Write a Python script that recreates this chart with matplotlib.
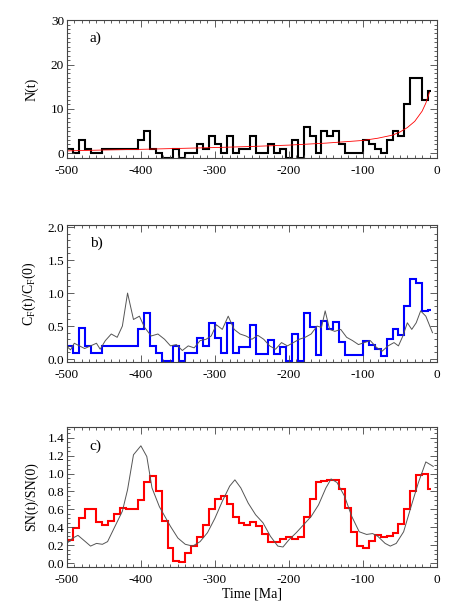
import numpy as np
import matplotlib
matplotlib.use('Agg')
from matplotlib import pyplot as plt
from matplotlib.ticker import MultipleLocator

plt.rcParams['font.family'] = ['Liberation Serif', 'DejaVu Serif']
plt.rcParams['mathtext.fontset'] = 'custom'
plt.rcParams['mathtext.rm'] = 'Liberation Serif'
plt.rcParams['axes.unicode_minus'] = False

# bin edges of the 8 Ma histograms (last bin is a half bin)
bin_edges = np.r_[-500, np.arange(-492, -11, 8), -8]

# a) number of events per bin
n_counts = [1, 0, 3, 1, 0, 0, 1, 1, 1, 1, 1, 1, 3, 5, 1, 0, -1, -1, 1, -1,
            0, 0, 2, 1, 4, 2, 0, 4, 0, 1, 1, 4, 0, 0, 2, 0, 1, -1, 3, -1,
            6, 4, 0, 5, 4, 5, 2, 0, 0, 0, 3, 2, 1, 0, 3, 5, 4, 11, 17, 17,
            12, 14]
fit_t = [-500, -450, -400, -350, -300, -250, -200, -150, -100, -80, -60,
         -50, -40, -30, -20, -15, -10]
fit_n = [0.55, 0.75, 0.9, 1.1, 1.3, 1.55, 1.85, 2.3, 2.9, 3.4, 4.1, 4.8,
         5.8, 7.2, 9.5, 11.3, 13.8]

# b) C_F(t)/C_F(0)
cf_hist = [0.20, 0.09, 0.47, 0.20, 0.09, 0.09, 0.20, 0.20, 0.20, 0.20, 0.20,
           0.20, 0.45, 0.70, 0.20, 0.09, -0.03, -0.03, 0.20, -0.03, 0.09,
           0.09, 0.32, 0.20, 0.55, 0.32, 0.09, 0.55, 0.09, 0.19, 0.19, 0.52,
           0.08, 0.08, 0.29, 0.08, 0.18, -0.03, 0.38, -0.03, 0.70, 0.48,
           0.06, 0.57, 0.45, 0.56, 0.26, 0.06, 0.06, 0.06, 0.28, 0.22, 0.15,
           0.05, 0.31, 0.46, 0.36, 0.81, 1.22, 1.15, 0.73, 0.75]
cf_t = [-500, -495, -490, -483, -476, -468, -460, -455, -448, -440, -432,
        -425, -418, -410, -402, -395, -386, -377, -368, -360, -352, -344,
        -336, -328, -320, -312, -305, -298, -290, -282, -274, -266, -258,
        -250, -242, -234, -226, -218, -210, -202, -194, -186, -178, -170,
        -162, -156, -151, -145, -138, -130, -122, -114, -106, -98, -90,
        -82, -74, -66, -58, -52, -46, -40, -34, -28, -22, -15, -6]
cf_line = [0.19, 0.14, 0.24, 0.20, 0.16, 0.20, 0.24, 0.15, 0.28, 0.38, 0.33,
           0.50, 1.00, 0.60, 0.65, 0.48, 0.35, 0.38, 0.30, 0.20, 0.22, 0.13,
           0.20, 0.17, 0.28, 0.30, 0.35, 0.52, 0.45, 0.65, 0.45, 0.38, 0.35,
           0.30, 0.36, 0.30, 0.20, 0.15, 0.25, 0.20, 0.25, 0.30, 0.33, 0.38,
           0.50, 0.48, 0.73, 0.45, 0.42, 0.45, 0.33, 0.28, 0.22, 0.25, 0.28,
           0.18, 0.12, 0.20, 0.25, 0.20, 0.35, 0.55, 0.45, 0.55, 0.73, 0.65,
           0.40]

# c) SN(t)/SN(0)
sn_hist = [0.26, 0.39, 0.50, 0.60, 0.60, 0.46, 0.42, 0.47, 0.55, 0.61, 0.60,
           0.60, 0.71, 0.91, 0.97, 0.81, 0.47, 0.17, 0.02, 0.01, 0.11, 0.19,
           0.29, 0.43, 0.60, 0.72, 0.75, 0.66, 0.51, 0.45, 0.42, 0.46, 0.41,
           0.32, 0.24, 0.24, 0.27, 0.29, 0.27, 0.29, 0.51, 0.72, 0.91, 0.92,
           0.93, 0.93, 0.83, 0.61, 0.35, 0.19, 0.17, 0.25, 0.31, 0.29, 0.30,
           0.34, 0.44, 0.60, 0.80, 0.98, 1.00, 0.83]
sn_t = [-500, -492, -485, -475, -468, -460, -452, -445, -435, -425, -418,
        -410, -400, -392, -385, -375, -360, -350, -340, -330, -320, -310,
        -300, -290, -280, -273, -265, -255, -245, -235, -225, -215, -208,
        -200, -190, -180, -170, -160, -150, -143, -135, -125, -115, -105,
        -95, -87, -80, -70, -63, -55, -45, -35, -25, -15, -5]
sn_line = [0.22, 0.28, 0.31, 0.24, 0.19, 0.22, 0.21, 0.24, 0.41, 0.58, 0.82,
           1.21, 1.31, 1.19, 0.84, 0.63, 0.41, 0.28, 0.21, 0.19, 0.24, 0.34,
           0.50, 0.69, 0.86, 0.93, 0.84, 0.67, 0.54, 0.45, 0.30, 0.19, 0.18,
           0.26, 0.34, 0.43, 0.52, 0.65, 0.84, 0.94, 0.90, 0.75, 0.52, 0.35,
           0.32, 0.33, 0.30, 0.22, 0.19, 0.22, 0.35, 0.63, 0.90, 1.13, 1.08]

frame_col = '#444444'


def format_ax(ax, ylim, major, minor, label, tag):
    ax.set_xlim(-500, 0)
    ax.set_ylim(*ylim)
    ax.xaxis.set_major_locator(MultipleLocator(100))
    ax.xaxis.set_minor_locator(MultipleLocator(10))
    ax.yaxis.set_major_locator(MultipleLocator(major))
    ax.yaxis.set_minor_locator(MultipleLocator(minor))
    ax.tick_params(which='both', direction='in', top=True, right=True,
                   color=frame_col, labelsize=9.5, width=0.6)
    ax.tick_params(which='major', length=5)
    ax.tick_params(which='minor', length=2.5)
    ax.tick_params(axis='y', pad=2)
    ax.tick_params(axis='x', pad=5)
    for sp in ax.spines.values():
        sp.set_color(frame_col)
        sp.set_linewidth(0.8)
    ax.set_ylabel(label, fontsize=10)
    ax.yaxis.set_label_coords(-0.077, 0.5)
    ax.text(0.062, 0.84, tag, transform=ax.transAxes, fontsize=11)


fig = plt.figure(figsize=(4.58, 6.10), dpi=100)
ax_a = fig.add_axes([0.146, 0.741, 0.808, 0.226])
ax_b = fig.add_axes([0.146, 0.407, 0.808, 0.224])
ax_c = fig.add_axes([0.146, 0.071, 0.808, 0.229])

ax_a.stairs(n_counts, bin_edges, baseline=None, color='black', linewidth=1.5,
            clip_on=False)
ax_a.plot(fit_t, fit_n, '-', color='red', linewidth=0.6)
format_ax(ax_a, (-1.05, 30), 10, 1, 'N(t)', 'a)')

ax_b.plot(cf_t, cf_line, '-', color='#555555', linewidth=0.7)
ax_b.stairs(cf_hist, bin_edges, baseline=None, color='blue', linewidth=1.5,
            clip_on=False)
format_ax(ax_b, (-0.04, 2.03), 0.5, 0.1,
          r'C$_\mathrm{F}$(t)/C$_\mathrm{F}$(0)', 'b)')

ax_c.plot(sn_t, sn_line, '-', color='#555555', linewidth=0.7)
ax_c.stairs(sn_hist, bin_edges, baseline=None, color='red', linewidth=1.5)
format_ax(ax_c, (-0.04, 1.52), 0.2, 0.05, 'SN(t)/SN(0)', 'c)')
ax_c.set_xlabel('Time [Ma]', fontsize=10, labelpad=1)

fig.savefig('out.png', dpi=100)
